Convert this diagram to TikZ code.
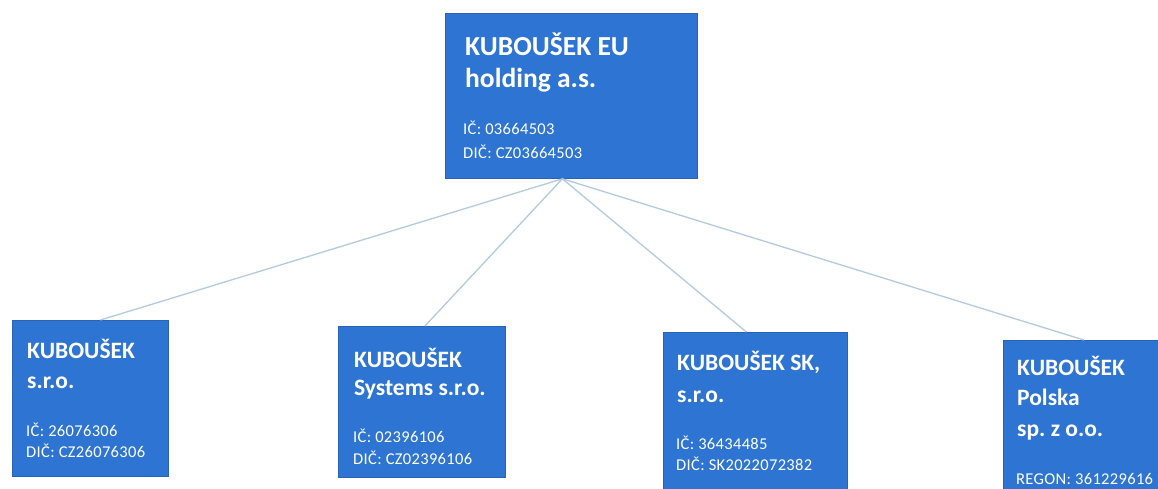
\documentclass[tikz,border=0pt]{standalone}
\usepackage{fontspec}
\setmainfont{Carlito}
\frenchspacing
\usetikzlibrary{calc}
\definecolor{boxblue}{HTML}{2E74D2}
\definecolor{boxedge}{HTML}{2863B5}
\definecolor{linkc}{HTML}{B3CADF}
\tikzset{
  box/.style={rectangle, fill=boxblue, draw=boxedge, line width=0.8pt, inner sep=0pt, anchor=north west},
  bigt/.style={anchor=base west, inner sep=0pt, text=white, font=\fontsize{27.5}{30}\selectfont\bfseries},
  midt/.style={anchor=base west, inner sep=0pt, text=white, font=\fontsize{23.5}{26}\selectfont\bfseries},
  smallt/.style={anchor=base west, inner sep=0pt, text=white, font=\fontsize{16.5}{18}\selectfont\addfontfeatures{LetterSpace=2}},
  link/.style={draw=linkc, line width=1.3pt}
}
\begin{document}
\begin{tikzpicture}[x=1pt,y=-1pt]
\useasboundingbox (0,0) rectangle (1158,488);
\fill[white] (0,0) rectangle (1158,488);
% boxes
\node[box, minimum width=252pt, minimum height=165pt] (top) at (445,13) {};
\node[box, minimum width=156pt, minimum height=156pt] (b1) at (12,320) {};
\node[box, minimum width=167pt, minimum height=151pt] (b2) at (338,326) {};
\node[box, minimum width=184pt, minimum height=165pt] (b3) at (663,332) {};
\node[box, minimum width=165pt, minimum height=160pt] (b4) at (1003,340) {};
% connectors
\draw[link] ([xshift=-9pt]top.south) -- ([xshift=10pt]b1.north);
\draw[link] ([xshift=-9pt]top.south) -- ([xshift=3pt]b2.north);
\draw[link] ([xshift=-9pt]top.south) -- ([xshift=-9pt]b3.north);
\draw[link] ([xshift=-9pt]top.south) -- ([xshift=-2pt]b4.north);
% top text
\node[bigt] (t1) at (465,55) {KUBOUŠEK EU};
\node[bigt] (t2) at (465,87) {holding a.s.};
\node[smallt] (t3) at (463,134) {IČ: 03664503};
\node[smallt] (t4) at (463,158) {DIČ: CZ03664503};
% box 1
\node[midt] (a1) at (27,358) {KUBOUŠEK};
\node[midt] (a2) at (27,388) {s.r.o.};
\node[smallt] (a3) at (26,436) {IČ: 26076306};
\node[smallt] (a4) at (26,457) {DIČ: CZ26076306};
% box 2
\node[midt] (c1) at (354,367) {KUBOUŠEK};
\node[midt] (c2) at (354,395) {Systems s.r.o.};
\node[smallt] (c3) at (353,442) {IČ: 02396106};
\node[smallt] (c4) at (353,464) {DIČ: CZ02396106};
% box 3
\node[midt] (d1) at (677,370) {KUBOUŠEK SK,};
\node[midt] (d2) at (677,402) {s.r.o.};
\node[smallt] (d3) at (676,449) {IČ: 36434485};
\node[smallt] (d4) at (676,470) {DIČ: SK2022072382};
% box 4
\node[midt] (e1) at (1017,375) {KUBOUŠEK};
\node[midt] (e2) at (1017,405) {Polska};
\node[midt] (e3) at (1017,436) {sp. z o.o.};
\node[smallt] (e4) at (1016,484) {REGON: 361229616};
\end{tikzpicture}
\end{document}
